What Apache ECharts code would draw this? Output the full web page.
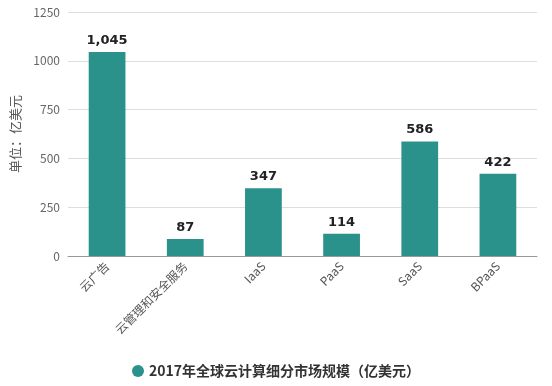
<!DOCTYPE html>
<html><head><meta charset="utf-8">
<script src="https://cdn.jsdelivr.net/npm/echarts@6/dist/echarts.min.js"></script>
<style>html,body{margin:0;padding:0;background:#fff}#c{width:552px;height:386px}</style>
</head><body><div id="c"></div>
<script>
const categories = ['云广告', '云管理和安全服务', 'IaaS', 'PaaS', 'SaaS', 'BPaaS'];
const values = [1045, 87, 347, 114, 586, 422];
const seriesName = '2017年全球云计算细分市场规模（亿美元）';
const yTicks = [0, 250, 500, 750, 1000, 1250];
const chart = echarts.init(document.getElementById('c'));
chart.setOption({
  animation: false,
  textStyle: {fontFamily: '"Noto Sans CJK SC", "Open Sans", sans-serif'},
  grid: {left: 68, right: 15, top: 12, bottom: 130},
  legend: {
    bottom: 3, left: 'center', itemWidth: 12, itemHeight: 12, icon: 'circle',
    textStyle: {color: '#333', fontSize: 14, fontWeight: 'bold'},
    data: [seriesName]
  },
  xAxis: {
    type: 'category', data: categories,
    axisLine: {lineStyle: {color: '#999'}},
    axisTick: {alignWithLabel: true, lineStyle: {color: '#999'}},
    axisLabel: {rotate: 45, color: '#555', fontSize: 12, interval: 0, margin: 8}
  },
  yAxis: {
    type: 'value', min: yTicks[0], max: yTicks[yTicks.length - 1], interval: 250,
    name: '单位：亿美元', nameLocation: 'middle', nameGap: 46, nameRotate: 90,
    nameTextStyle: {color: '#555', fontSize: 13},
    axisLine: {show: false}, axisTick: {show: false},
    axisLabel: {color: '#666', fontSize: 12, formatter: v => String(v)},
    splitLine: {lineStyle: {color: '#ddd'}}
  },
  series: [{
    name: seriesName, type: 'bar', data: values, barWidth: '47%',
    itemStyle: {color: '#2b918b'},
    label: {show: true, position: 'top', color: '#222', fontSize: 13, fontWeight: 'bold',
      fontFamily: '"DejaVu Sans", sans-serif',
      formatter: p => p.value.toLocaleString('en-US')}
  }]
});
</script></body></html>
